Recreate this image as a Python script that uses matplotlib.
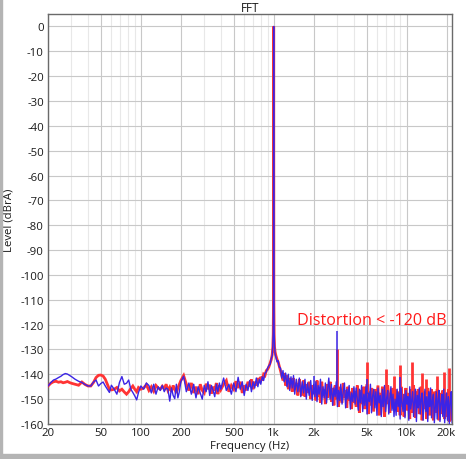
import matplotlib
matplotlib.use("Agg")
import matplotlib.pyplot as plt
from matplotlib.ticker import FixedLocator, NullFormatter
from matplotlib.patches import Rectangle

plt.rcParams['font.family'] = ['Open Sans', 'DejaVu Sans']

# --- low band 20..100 Hz (smooth part of the spectrum)
freq_low = [20, 21, 22, 23, 24, 25, 26, 27, 28, 29, 30, 32, 34, 36, 38, 40, 42, 44, 46, 48,
            50, 52, 54, 56, 58, 60, 63, 66, 69, 72, 75, 78, 81, 84, 87, 90, 93, 96, 100]
red_low = [-144.7, -143.6, -143.0, -142.8, -143.2, -143.0, -143.4, -143.2, -142.9, -143.3,
           -143.6, -144.0, -144.4, -143.1, -144.1, -144.7, -144.7, -143.3, -141.3, -140.4,
           -140.3, -140.7, -142.0, -144.0, -146.0, -146.3, -146.0, -145.3, -146.7, -146.0,
           -147.1, -148.0, -147.0, -145.7, -144.7, -146.0, -147.0, -145.3, -146.0]
blue_low = [-144.7, -143.3, -142.3, -141.9, -141.3, -140.8, -140.1, -139.7, -139.9, -140.4,
            -140.9, -142.0, -142.8, -143.3, -144.1, -144.7, -144.7, -143.1, -142.3, -144.7,
            -143.7, -143.1, -144.7, -146.0, -147.3, -144.4, -146.0, -148.0, -143.3, -140.9,
            -144.0, -143.6, -142.3, -146.0, -147.3, -148.7, -150.3, -147.3, -144.7]

# --- mid band 105..1100 Hz incl. the 1 kHz tone
freq_mid = [105, 110, 115, 120, 125, 130, 135, 140, 145, 150, 155, 160, 165, 170, 175, 180, 185, 190, 195, 200,
            210, 220, 230, 240, 250, 260, 270, 280, 290, 300, 310, 320, 330, 340, 350, 360, 370, 380, 390, 400,
            420, 440, 460, 480, 500, 520, 540, 560, 580, 600, 620, 640, 660, 680, 700, 720, 740, 760, 780, 800,
            820, 840, 860, 880, 900,
            920, 940, 960, 975, 985, 992, 997, 1000, 1003, 1008, 1015, 1025, 1040, 1060, 1080, 1100]
red_mid = [-145.5, -144.2, -146.5, -145.0, -146.8, -144.5, -145.5, -146.0, -144.8, -145.8,
           -144.0, -146.5, -145.2, -147.0, -144.5, -146.0, -147.5, -145.5, -144.0, -142.5,
           -140.5, -144.0, -146.5, -143.5, -147.5, -145.0, -148.0, -144.0, -146.5, -147.5,
           -143.8, -146.0, -144.2, -147.8, -145.0, -146.5, -143.5, -148.0, -144.5, -146.2,
           -144.0, -142.5, -147.0, -144.5, -146.0, -142.8, -145.5, -143.0, -147.5, -144.5,
           -146.5, -143.0, -145.0, -142.0, -146.0, -143.0, -144.5, -141.5, -143.5, -141.0,
           -142.5, -140.0, -140.5, -138.5, -138.0,
           -137.0, -135.5, -134.0, -132.0, -129.0, -124.0, -110.0, 0.0, -110.0, -124.0,
           -129.0, -131.0, -132.5, -134.0, -135.0, -136.5]
blue_mid = [-146.0, -143.5, -144.5, -147.5, -144.0, -148.0, -145.0, -146.5, -144.5, -147.0,
            -145.5, -146.0, -150.8, -145.5, -148.5, -149.8, -144.0, -149.5, -147.0, -143.0,
            -140.8, -147.0, -143.5, -148.0, -144.0, -149.5, -145.0, -147.5, -150.0, -144.5,
            -147.0, -143.0, -148.5, -144.5, -146.5, -149.0, -144.0, -147.0, -143.5, -146.0,
            -141.5, -146.5, -144.0, -148.0, -143.5, -147.0, -141.2, -146.0, -143.0, -148.5,
            -144.0, -146.5, -142.5, -147.0, -143.0, -145.5, -141.5, -145.0, -142.0, -144.0,
            -141.0, -142.5, -139.5, -139.0, -137.5,
            -136.5, -136.0, -133.5, -132.5, -128.5, -123.0, -108.0, 0.0, -108.0, -123.0,
            -128.5, -132.0, -133.0, -135.0, -134.5, -137.0]

# --- high band 1.1k..22k (dense noise floor)
freq_high = [1125, 1150, 1175, 1200, 1230, 1260, 1290, 1320, 1350, 1380,
             1410, 1440, 1480, 1520, 1560, 1600, 1640, 1680, 1720, 1760,
             1800, 1850, 1900, 1950, 2000,
             2040, 2080, 2120, 2160, 2200, 2250, 2300, 2350, 2400, 2450,
             2500, 2550, 2600, 2660, 2720, 2780, 2840, 2900, 2960, 3020,
             3080, 3140, 3200, 3270, 3340, 3410, 3480, 3550, 3620, 3700,
             3780, 3860, 3940, 4020,
             4100, 4180, 4260, 4340, 4420, 4500, 4590, 4680, 4770, 4860,
             4950, 5050, 5150, 5250, 5350, 5450, 5550, 5660, 5770, 5880,
             5990, 6100, 6220, 6340, 6460, 6580, 6700, 6830, 6960, 7090,
             7220, 7350, 7490, 7630, 7770, 7910, 8050,
             8200, 8350, 8500, 8650, 8800, 8950, 9100, 9260, 9420, 9580,
             9740, 9900, 10070, 10240, 10410, 10580, 10760, 10940, 11120, 11300,
             11490, 11680, 11870, 12070, 12270, 12470, 12680, 12890, 13100, 13320,
             13540, 13760, 13990, 14220, 14450, 14690, 14930, 15180, 15430, 15680,
             15940, 16200,
             16470, 16740, 17010, 17290, 17570, 17860, 18150, 18450, 18750, 19060,
             19370, 19690, 20010, 20340, 20670, 21010, 21350, 21700, 22050]
red_high = [-138.5, -140.5, -142.5, -139.5, -144.5, -140.5, -146, -141.5, -144, -147,
            -141.5, -146, -143.5, -148.5, -142, -146.5, -148.5, -142.5, -149, -144,
            -147.5, -143, -150, -144.5, -148,
            -146, -150.5, -142.5, -149, -145.5, -151.5, -143, -148.5, -146, -152,
            -144, -149.5, -147, -143, -151, -145.5, -152.5, -144.5, -150, -146.5,
            -153, -145, -148, -151.5, -143.5, -149.5, -146.5, -153.5, -145, -150.5,
            -147, -154, -145.5, -151.5,
            -147, -153, -144.5, -150.5, -155.5, -146.5, -152, -148, -145, -154,
            -149.5, -144, -156, -147, -152.5, -145.5, -150, -155, -146, -151.5,
            -148, -144.5, -156.5, -147.5, -153, -145, -150.5, -157, -146.5, -152,
            -144.5, -149, -155.5, -147.5, -151, -145.5, -154,
            -146, -151.5, -155, -147, -149.5, -156.5, -145, -153, -148, -157,
            -150, -145.5, -154.5, -147.5, -152, -158, -146, -150.5, -155.5, -144.5,
            -152.5, -157.5, -147, -150, -146, -156, -153.5, -145, -158.5, -149,
            -147, -154, -151, -158, -145.5, -150, -156.5, -148.5, -146, -153,
            -158.5, -147,
            -148, -155.5, -146, -152, -158.5, -147.5, -150, -156, -146.5, -153,
            -158, -148, -151, -157, -146, -159, -149.5, -155, -158]
blue_high = [-137.5, -141.5, -138.5, -143, -139.5, -145, -140, -146.5, -141, -145.5,
             -140.5, -148, -142, -147, -141.5, -149, -143, -147.5, -142, -150,
             -143.5, -148.5, -142.5, -150.5, -144,
             -149, -143, -151, -144.5, -148, -142, -152, -145, -149.5, -143.5,
             -151.5, -146, -141.5, -150, -144, -152.5, -145.5, -149, -143, -153,
             -146.5, -150.5, -144, -152, -147, -143.5, -153.5, -146, -150, -144.5,
             -154, -147.5, -151, -145,
             -152, -145.5, -150, -154.5, -146, -151.5, -144.5, -155, -148, -152.5,
             -145, -156, -147.5, -151, -144, -155.5, -149, -146, -153.5, -147,
             -156.5, -145.5, -151.5, -148.5, -157, -146, -153, -144.5, -155, -149.5,
             -146.5, -156, -150, -145, -154.5, -148, -157,
             -150, -156.5, -146, -153, -147.5, -158, -145.5, -151.5, -155, -148,
             -157.5, -146.5, -152, -149, -158.5, -145, -154, -150.5, -147, -157,
             -151, -146, -159, -148.5, -153.5, -145.5, -156, -150, -147.5, -158.5,
             -152, -146, -155, -149, -159, -147, -153, -145.5, -157.5, -150.5,
             -148, -159.5,
             -153, -147, -158, -150, -146.5, -159, -151.5, -148, -157, -146,
             -159.5, -152, -147.5, -158.5, -149, -160, -151, -147, -159.5]

# harmonic spikes rising out of the noise floor
harm_freq_red = [3000, 5000, 7000, 8000, 9000, 11000, 13000, 14000, 17000, 19000, 21000]
harm_red = [-130.0, -135.2, -137.9, -140.7, -136.4, -135.2, -139.5, -142.0, -140.6, -139.2, -137.6]
harm_freq_blue = [2000, 3000, 5000, 9000]
harm_blue = [-140.5, -122.7, -142.0, -141.2]

x_ticks = [20, 50, 100, 200, 500, 1000, 2000, 5000, 10000, 20000]
x_labels = ['20', '50', '100', '200', '500', '1k', '2k', '5k', '10k', '20k']
x_minor = [30, 40, 60, 70, 80, 90, 300, 400, 600, 700, 800, 900,
           3000, 4000, 6000, 7000, 8000, 9000]
y_ticks = list(range(0, -161, -10))

freq = freq_low + freq_mid + freq_high
red_db = red_low + red_mid + red_high
blue_db = blue_low + blue_mid + blue_high
assert len(freq) == len(red_db) == len(blue_db), (len(freq), len(red_db), len(blue_db))

RED = '#ff3434'
BLUE = '#3b24e6'

fig = plt.figure(figsize=(4.66, 4.60), dpi=100)
ax = fig.add_axes([48 / 466, 35 / 460, 404 / 466, 410 / 460])

ax.plot(freq, red_db, color=RED, lw=2.0, solid_joinstyle='miter', zorder=3)
ax.vlines(harm_freq_red, -148, harm_red, color=RED, lw=2.0, zorder=3)
ax.plot(freq, blue_db, color=BLUE, lw=1.0, zorder=4)
ax.vlines(harm_freq_blue, -148, harm_blue, color=BLUE, lw=1.1, zorder=4)

ax.set_xscale('log')
ax.set_xlim(20, 22000)
ax.set_ylim(-160, 5)

ax.xaxis.set_major_locator(FixedLocator(x_ticks))
ax.set_xticklabels(x_labels)
ax.xaxis.set_minor_locator(FixedLocator(x_minor))
ax.xaxis.set_minor_formatter(NullFormatter())
ax.set_yticks(y_ticks)
ax.set_yticklabels([str(v) for v in y_ticks])

ax.grid(True, which='major', color='#c8c8c8', lw=0.8, zorder=0)
ax.grid(True, which='minor', axis='x', color='#e8e8e8', lw=0.8, zorder=0)
ax.set_axisbelow(True)
ax.tick_params(which='both', length=0, labelsize=8.2, colors='#1a1a1a')
ax.tick_params(axis='x', pad=2.5)
ax.tick_params(axis='y', pad=3)
for s in ax.spines.values():
    s.set_color('#6a6a6a')
    s.set_linewidth(1.0)

ax.set_title('FFT', fontsize=8.5, color='#1a1a1a', pad=2)
ax.set_xlabel('Frequency (Hz)', fontsize=8.2, color='#1a1a1a')
ax.set_ylabel('Level (dBrA)', fontsize=8.2, color='#1a1a1a')
ax.xaxis.set_label_coords(0.5, -0.038)
ax.yaxis.set_label_coords(-0.083, 0.5)

ax.text(5480, -118.2, 'Distortion < -120 dB', color='#ff1a1a', fontsize=11.6,
        ha='center', va='center', zorder=5)

# window frame of the screenshot
fig.patches.append(Rectangle((0, 0), 1, 5 / 460, transform=fig.transFigure,
                             color='#b4b4b4', zorder=10))
fig.patches.append(Rectangle((0, 0), 1.5 / 466, 1, transform=fig.transFigure,
                             color='#b4b4b4', zorder=10))

fig.savefig('out.png', dpi=100)
